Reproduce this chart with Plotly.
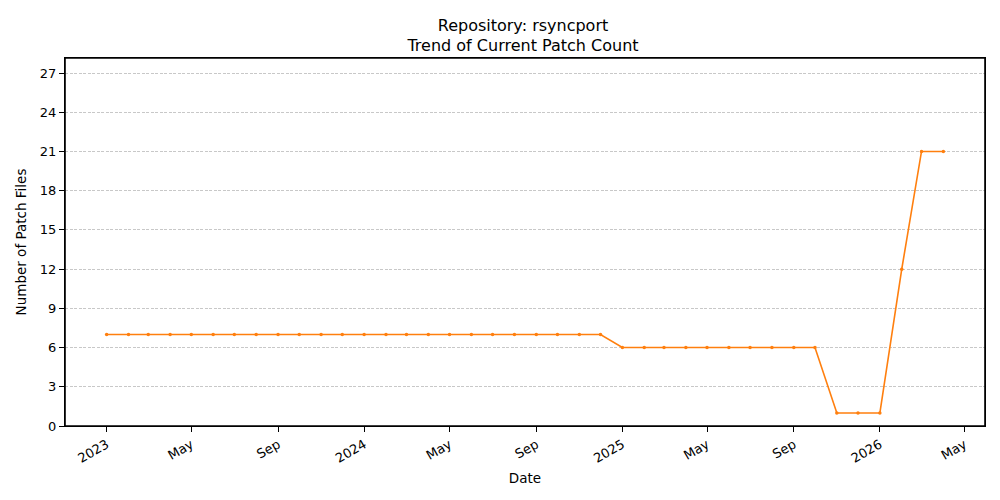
import plotly.graph_objects as go

# monthly snapshots of the patch count
dates = [
    "2023-01-01", "2023-02-01", "2023-03-01", "2023-04-01", "2023-05-01", "2023-06-01",
    "2023-07-01", "2023-08-01", "2023-09-01", "2023-10-01", "2023-11-01", "2023-12-01",
    "2024-01-01", "2024-02-01", "2024-03-01", "2024-04-01", "2024-05-01", "2024-06-01",
    "2024-07-01", "2024-08-01", "2024-09-01", "2024-10-01", "2024-11-01", "2024-12-01",
    "2025-01-01", "2025-02-01", "2025-03-01", "2025-04-01", "2025-05-01", "2025-06-01",
    "2025-07-01", "2025-08-01", "2025-09-01", "2025-10-01", "2025-11-01", "2025-12-01",
    "2026-01-01", "2026-02-01", "2026-03-01", "2026-04-01",
]
patch_counts = [7] * 24 + [6] * 10 + [1, 1, 1, 12, 21, 21]

tick_dates = ["2023-01-01", "2023-05-01", "2023-09-01", "2024-01-01", "2024-05-01",
              "2024-09-01", "2025-01-01", "2025-05-01", "2025-09-01", "2026-01-01",
              "2026-05-01"]
tick_labels = ["2023", "May", "Sep", "2024", "May", "Sep", "2025", "May", "Sep", "2026", "May"]
y_ticks = list(range(0, 28, 3))

fig = go.Figure()
fig.add_trace(go.Scatter(
    x=dates,
    y=patch_counts,
    mode="lines+markers",
    line=dict(color="#ff7f0e", width=1.6),
    marker=dict(size=3.5, color="#ff7f0e"),
    showlegend=False,
))

axis_style = dict(
    showline=True, linecolor="black", linewidth=1.2, mirror=True,
    ticks="outside", ticklen=5, tickcolor="black",
    tickfont=dict(size=13, color="black"),
    zeroline=False,
)

# page body has an 8px margin, so the margins are shifted to compensate
fig.update_layout(
    width=1000, height=500,
    paper_bgcolor="white", plot_bgcolor="white",
    font=dict(family="DejaVu Sans", color="black"),
    margin=dict(l=54, r=23, t=50, b=82),
    title=dict(text="Repository: rsyncport<br>Trend of Current Patch Count",
               x=0.515, xanchor="center", y=0.955, yanchor="top",
               font=dict(size=16)),
    xaxis=dict(
        **axis_style,
        range=["2022-11-03", "2026-05-30"],
        tickvals=tick_dates, ticktext=tick_labels, tickangle=-30,
        showgrid=False,
        title=dict(text="Date", font=dict(size=13.5), standoff=8),
    ),
    yaxis=dict(
        **axis_style,
        range=[0, 28.15],
        tickvals=y_ticks,
        showgrid=True, gridcolor="#c8c8c8", gridwidth=0.6, griddash="3px,1.5px",
        title=dict(text="Number of Patch Files", font=dict(size=13.5), standoff=10),
    ),
)

# black frame round the plot area, like the matplotlib axes box
fig.add_shape(type="rect", xref="paper", yref="paper", x0=0, y0=0, x1=1, y1=1,
              line=dict(color="black", width=1.6), fillcolor="rgba(0,0,0,0)",
              layer="above")

fig.write_html("out.html")
